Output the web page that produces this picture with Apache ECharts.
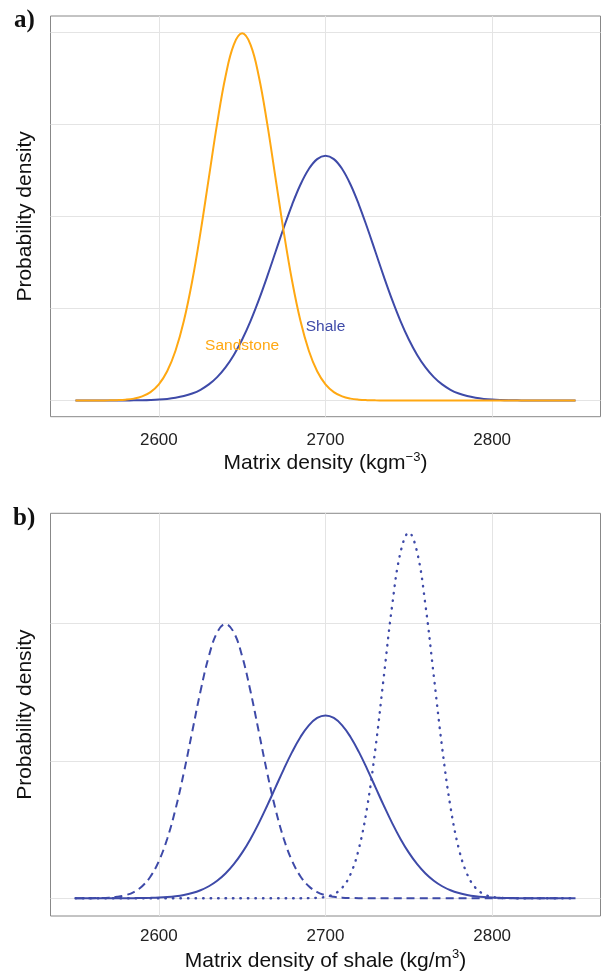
<!DOCTYPE html>
<html>
<head>
<meta charset="utf-8">
<script src="https://cdn.jsdelivr.net/npm/echarts@6/dist/echarts.min.js"></script>
<style>
  html, body { margin: 0; padding: 0; background: #fff; }
  #main { width: 604px; height: 975px; }
</style>
</head>
<body>
<div id="main"></div>
<script>
// matrix density, step 5 from 2550 to 2850
var density = [2550, 2555, 2560, 2565, 2570, 2575, 2580, 2585, 2590, 2595,
    2600, 2605, 2610, 2615, 2620, 2625, 2630, 2635, 2640, 2645,
    2650, 2655, 2660, 2665, 2670, 2675, 2680, 2685, 2690, 2695,
    2700, 2705, 2710, 2715, 2720, 2725, 2730, 2735, 2740, 2745,
    2750, 2755, 2760, 2765, 2770, 2775, 2780, 2785, 2790, 2795,
    2800, 2805, 2810, 2815, 2820, 2825, 2830, 2835, 2840, 2845, 2850];

// a) shale
var shale = [0, 0, 0, 0, 0.000001, 0.000002, 0.000005, 0.000009, 0.000016, 0.000029,
    0.000051, 0.000088, 0.000148, 0.000240, 0.000380, 0.000584, 0.000874, 0.001272, 0.001800, 0.002477,
    0.003316, 0.004317, 0.005467, 0.006733, 0.008066, 0.009397, 0.010648, 0.011735, 0.012579, 0.013115,
    0.013298,
    0.013115, 0.012579, 0.011735, 0.010648, 0.009397, 0.008066, 0.006733, 0.005467, 0.004317, 0.003316,
    0.002477, 0.001800, 0.001272, 0.000874, 0.000584, 0.000380, 0.000240, 0.000148, 0.000088, 0.000051,
    0.000029, 0.000016, 0.000009, 0.000005, 0.000002, 0.000001, 0, 0, 0, 0];

// a) sandstone
var sandstone = [0, 0, 0.000001, 0.000002, 0.000007, 0.000018, 0.000044, 0.000102, 0.000222, 0.000455,
    0.000876, 0.001587, 0.002700, 0.004314, 0.006476, 0.009132, 0.012099, 0.015057, 0.017603, 0.019333,
    0.019947,
    0.019333, 0.017603, 0.015057, 0.012099, 0.009132, 0.006476, 0.004314, 0.002700, 0.001587, 0.000876,
    0.000455, 0.000222, 0.000102, 0.000044, 0.000018, 0.000007, 0.000002, 0.000001,
    0, 0, 0, 0, 0, 0, 0, 0, 0, 0, 0, 0, 0, 0, 0, 0, 0, 0, 0, 0, 0, 0];

// b) dashed (low) and dotted (high) shale curves
var shaleLow = [0.000001, 0.000002, 0.000007, 0.000018, 0.000044, 0.000102, 0.000222, 0.000455, 0.000876, 0.001587,
    0.002700, 0.004314, 0.006476, 0.009132, 0.012099, 0.015057, 0.017603, 0.019333,
    0.019947,
    0.019333, 0.017603, 0.015057, 0.012099, 0.009132, 0.006476, 0.004314, 0.002700, 0.001587, 0.000876,
    0.000455, 0.000222, 0.000102, 0.000044, 0.000018, 0.000007, 0.000002, 0.000001,
    0, 0, 0, 0, 0, 0, 0, 0, 0, 0, 0, 0, 0, 0, 0, 0, 0, 0, 0, 0, 0, 0];

var shaleHigh = [0, 0, 0, 0, 0, 0, 0, 0, 0, 0,
    0, 0, 0, 0, 0, 0, 0, 0, 0, 0,
    0, 0, 0, 0, 0, 0, 0,
    0.000002, 0.000009, 0.000032, 0.000103, 0.000295, 0.000760, 0.001748, 0.003599, 0.006632, 0.010934,
    0.016131, 0.021296, 0.025159,
    0.026596,
    0.025159, 0.021296, 0.016131, 0.010934, 0.006632, 0.003599, 0.001748, 0.000760, 0.000295, 0.000103,
    0.000032, 0.000009, 0.000002,
    0, 0, 0, 0, 0, 0, 0];

var xTicks = [2600, 2700, 2800];
var yGridA = [0, 0.005, 0.01, 0.015, 0.02];
var yGridB = [0, 0.01, 0.02];

var orange = '#FFA812';
var blue = '#3E4AA8';
var font = 'Liberation Sans, Arial, sans-serif';

function pairs(ys) {
    return density.map(function (x, i) { return [x, ys[i]]; });
}

function gridLines(ys) {
    var d = xTicks.map(function (v) { return { xAxis: v }; });
    ys.forEach(function (v) { d.push({ yAxis: v }); });
    return d;
}

function xAxisOf(idx, title, margin, gap) {
    return {
        type: 'value', gridIndex: idx, min: 2535, max: 2865,
        axisLine: { show: false },
        axisTick: { show: true, customValues: xTicks, length: 5, lineStyle: { color: '#333', width: 1 } },
        axisLabel: {
            customValues: xTicks, color: '#222', fontSize: 17, fontFamily: font, margin: margin,
            formatter: function (v) { return String(v); }
        },
        splitLine: { show: false },
        name: title, nameLocation: 'middle', nameGap: gap,
        nameTextStyle: {
            fontFamily: font, color: '#111',
            rich: {
                t: { fontSize: 21, fontFamily: font, color: '#111', lineHeight: 26 },
                s: { fontSize: 13, fontFamily: font, color: '#111', lineHeight: 26, verticalAlign: 'top', padding: [0, 0, 12, 0] }
            }
        }
    };
}

function yAxisOf(idx, min, max) {
    return {
        type: 'value', gridIndex: idx, min: min, max: max,
        axisLine: { show: false }, axisTick: { show: false },
        axisLabel: { show: false }, splitLine: { show: false },
        name: 'Probability density', nameLocation: 'middle', nameGap: 15,
        nameTextStyle: { fontSize: 21, fontFamily: font, color: '#111' }
    };
}

// panel gridlines, drawn under the curves
function gridSeries(idx, ys) {
    return {
        type: 'line', xAxisIndex: idx, yAxisIndex: idx, z: 1,
        data: [[2550, 0]], showSymbol: false, lineStyle: { opacity: 0 },
        markLine: {
            silent: true, symbol: 'none', precision: 6, z: 1, label: { show: false },
            lineStyle: { color: '#E4E4E4', width: 1, type: 'solid' },
            data: gridLines(ys)
        }
    };
}

function curve(idx, ys, color, type, label) {
    var s = {
        type: 'line', xAxisIndex: idx, yAxisIndex: idx, z: 3,
        data: pairs(ys), showSymbol: false, smooth: 0.4,
        lineStyle: { color: color, width: 2, type: type }
    };
    if (type === 'dotted') {
        s.lineStyle.type = [0.5, 7];
        s.lineStyle.cap = 'round';
        s.lineStyle.width = 2.4;
    }
    if (label) {
        s.markPoint = {
            silent: true, symbol: 'rect', symbolSize: 1,
            itemStyle: { color: 'rgba(0,0,0,0)' },
            data: [{
                coord: label.coord,
                label: { show: true, position: 'inside', formatter: label.text, color: color, fontSize: 15.5, fontFamily: font }
            }]
        };
    }
    return s;
}

var myChart = echarts.init(document.getElementById('main'));

var option = {
    animation: false,
    backgroundColor: '#fff',
    title: [
        { text: 'a)', left: 14, top: 8, padding: 0, textStyle: { fontFamily: 'Liberation Serif, Times New Roman, serif', fontWeight: 'bold', fontSize: 25, color: '#111' } },
        { text: 'b)', left: 13, top: 506, padding: 0, textStyle: { fontFamily: 'Liberation Serif, Times New Roman, serif', fontWeight: 'bold', fontSize: 25, color: '#111' } }
    ],
    grid: [
        { left: 50.5, top: 16, width: 550, height: 400.7, show: true, borderColor: '#888', borderWidth: 1, containLabel: false },
        { left: 50.5, top: 513.3, width: 550, height: 402.7, show: true, borderColor: '#888', borderWidth: 1, containLabel: false }
    ],
    xAxis: [
        xAxisOf(0, '{t|Matrix density (kgm}{s|−3}{t|)}', 15, 34),
        xAxisOf(1, '{t|Matrix density of shale (kg/m}{s|3}{t|)}', 12, 32)
    ],
    yAxis: [
        yAxisOf(0, -0.00088, 0.02089),
        yAxisOf(1, -0.00129, 0.028)
    ],
    series: [
        gridSeries(0, yGridA),
        gridSeries(1, yGridB),
        curve(0, shale, blue, 'solid', { coord: [2700, 0.0040], text: 'Shale' }),
        curve(0, sandstone, orange, 'solid', { coord: [2650, 0.00296], text: 'Sandstone' }),
        curve(1, shale, blue, 'solid'),
        curve(1, shaleLow, blue, [8, 5]),
        curve(1, shaleHigh, blue, 'dotted')
    ]
};

myChart.setOption(option);
window.addEventListener('resize', function () {
    myChart.resize();
});
</script>
</body>
</html>
